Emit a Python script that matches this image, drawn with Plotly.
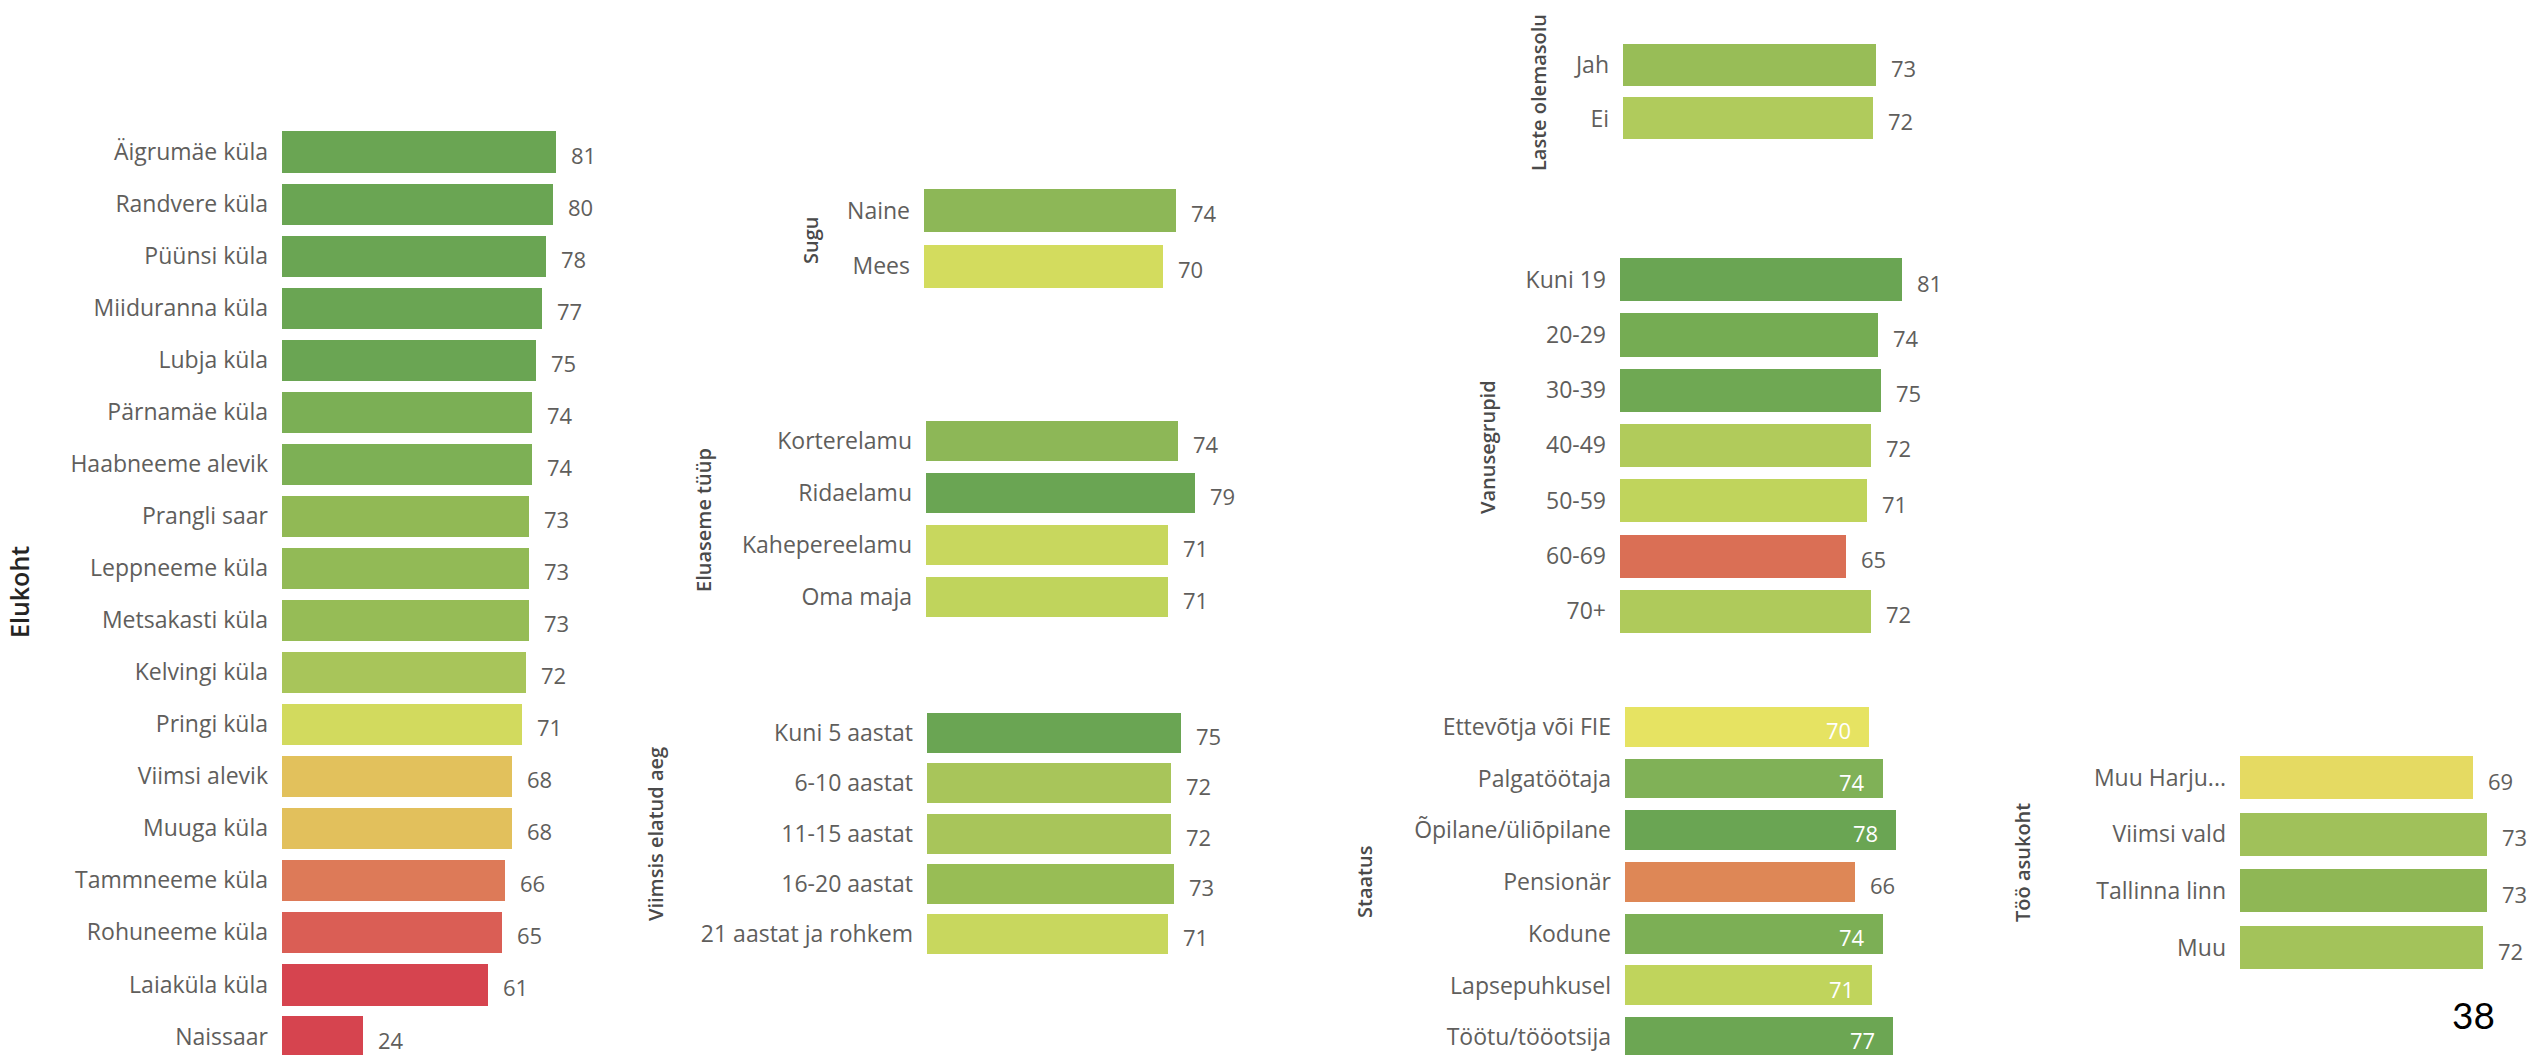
import plotly.graph_objects as go

W, H = 2537, 1055

# ---------------- data ----------------
elukoht_labels = ["Äigrumäe küla", "Randvere küla", "Püünsi küla", "Miiduranna küla", "Lubja küla",
                  "Pärnamäe küla", "Haabneeme alevik", "Prangli saar", "Leppneeme küla", "Metsakasti küla",
                  "Kelvingi küla", "Pringi küla", "Viimsi alevik", "Muuga küla", "Tammneeme küla",
                  "Rohuneeme küla", "Laiaküla küla", "Naissaar"]
elukoht_values = [81, 80, 78, 77, 75, 74, 74, 73, 73, 73, 72, 71, 68, 68, 66, 65, 61, 24]

sugu_labels = ["Naine", "Mees"]
sugu_values = [74, 70]

eluase_labels = ["Korterelamu", "Ridaelamu", "Kahepereelamu", "Oma maja"]
eluase_values = [74, 79, 71, 71]

elatud_labels = ["Kuni 5 aastat", "6-10 aastat", "11-15 aastat", "16-20 aastat", "21 aastat ja rohkem"]
elatud_values = [75, 72, 72, 73, 71]

laste_labels = ["Jah", "Ei"]
laste_values = [73, 72]

vanus_labels = ["Kuni 19", "20-29", "30-39", "40-49", "50-59", "60-69", "70+"]
vanus_values = [81, 74, 75, 72, 71, 65, 72]

staatus_labels = ["Ettevõtja või FIE", "Palgatöötaja", "Õpilane/üliõpilane", "Pensionär", "Kodune",
                  "Lapsepuhkusel", "Töötu/tööotsija"]
staatus_values = [70, 74, 78, 66, 74, 71, 77]

too_labels = ["Muu Harju...", "Viimsi vald", "Tallinna linn", "Muu"]
too_values = [69, 73, 73, 72]

page_number = "38"

# ---------------- colours (style) ----------------
elukoht_colors = ["#6AA553", "#6AA553", "#6AA553", "#6AA553", "#6AA553", "#7BAF55", "#7DB055",
                  "#91B955", "#92BA56", "#96BC56", "#A8C55A", "#D2DA5E", "#E2C15C", "#E2C05C",
                  "#DD7A58", "#DA5E55", "#D6444F", "#D6444F"]
sugu_colors = ["#8DB757", "#D3DC5E"]
eluase_colors = ["#8DB757", "#6AA553", "#C8D75E", "#C0D45C"]
elatud_colors = ["#6AA553", "#A8C55A", "#A8C55A", "#98BD55", "#C8D75E"]
laste_colors = ["#98BD57", "#B0CB5C"]
vanus_colors = ["#6AA553", "#75AC53", "#6FA853", "#B1CB5B", "#C0D45C", "#DA6F55", "#AFCA5B"]
staatus_colors = ["#E6E362", "#80B157", "#6AA553", "#DE8756", "#7CAF55", "#C0D45C", "#6CA653"]
too_colors = ["#E5DA62", "#A0C15A", "#8FB755", "#A3C35A"]

LABEL_FONT = dict(family="Open Sans", size=23, color="#605E5C")
VALUE_FONT = dict(family="Open Sans", size=22, color="#605E5C")
TITLE_FONT = dict(family="Open Sans", size=20, color="#4A4A4A", weight=600)

fig = go.Figure()
annotations = []


def add_panel(i, labels, values, colors, x0, ppu, top, pitch, barfrac, title, tx, ty,
              inside=None, title_font=None):
    n = len(labels)
    bottom = min(top + n * pitch, H)
    xmax = 85
    ax = "" if i == 1 else str(i)
    fig.add_trace(go.Bar(
        x=values, y=list(range(n)), orientation="h",
        marker=dict(color=colors, line=dict(width=0)),
        width=barfrac, xaxis="x" + ax, yaxis="y" + ax,
        hoverinfo="skip", showlegend=False,
    ))
    fig.update_layout(**{
        "xaxis" + ax: dict(domain=[x0 / W, (x0 + ppu * xmax) / W], range=[0, xmax],
                           visible=False, fixedrange=True, anchor="y" + ax),
        "yaxis" + ax: dict(domain=[1 - bottom / H, 1 - top / H],
                           range=[(bottom - top) / pitch - 0.5, -0.5],
                           tickmode="array", tickvals=list(range(n)), ticktext=labels,
                           tickfont=LABEL_FONT, showgrid=False, zeroline=False, showline=False,
                           ticks="", ticklabelstandoff=13, anchor="x" + ax, fixedrange=True),
    })
    for k, v in enumerate(values):
        is_in = inside is not None and inside[k]
        annotations.append(dict(
            xref="x" + ax, yref="y" + ax, x=v, y=k, text=str(v), showarrow=False,
            xanchor="right" if is_in else "left", xshift=-16 if is_in else 13, yshift=-3,
            font=dict(VALUE_FONT, color="#FFFFFF") if is_in else VALUE_FONT,
        ))
    annotations.append(dict(
        xref="paper", yref="paper", x=tx / W, y=1 - ty / H, text=title, textangle=-90,
        showarrow=False, xanchor="center", yanchor="middle",
        font=title_font or TITLE_FONT,
    ))


add_panel(1, elukoht_labels, elukoht_values, elukoht_colors, 282, 3.383, 125.5, 52.06, 0.79,
          "Elukoht", 19, 592,
          title_font=dict(family="Open Sans", size=25, color="#252423", weight=600))
add_panel(2, sugu_labels, sugu_values, sugu_colors, 924, 3.41, 182.75, 55.5, 0.77,
          "Sugu", 810, 240)
add_panel(3, eluase_labels, eluase_values, eluase_colors, 926, 3.41, 414.5, 52.0, 0.77,
          "Eluaseme tüüp", 703, 520)
add_panel(4, elatud_labels, elatud_values, elatud_colors, 927, 3.39, 707.9, 50.25, 0.8,
          "Viimsis elatud aeg", 655, 834)
add_panel(5, laste_labels, laste_values, laste_colors, 1623, 3.47, 38.25, 53.5, 0.78,
          "Laste olemasolu", 1538, 93)
add_panel(6, vanus_labels, vanus_values, vanus_colors, 1620, 3.48, 251.85, 55.3, 0.78,
          "Vanusegrupid", 1487, 447)
add_panel(7, staatus_labels, staatus_values, staatus_colors, 1625, 3.48, 701.15, 51.7, 0.77,
          "Staatus", 1364, 882, inside=[True, True, True, False, True, True, True])
add_panel(8, too_labels, too_values, too_colors, 2240, 3.38, 749.15, 56.7, 0.76,
          "Töö asukoht", 2022, 863)

annotations.append(dict(xref="paper", yref="paper", x=2473 / W, y=1 - 1014 / H, text=page_number,
                        showarrow=False, xanchor="center", yanchor="middle",
                        font=dict(family="Lato", size=37, color="#000000")))

fig.update_layout(
    width=W, height=H, margin=dict(l=0, r=0, t=0, b=0),
    paper_bgcolor="white", plot_bgcolor="rgba(0,0,0,0)",
    annotations=annotations, bargap=0,
)

fig.write_html("out.html", config={"displayModeBar": False},
               post_script="document.body.style.margin='0';document.body.style.overflow='hidden';")
